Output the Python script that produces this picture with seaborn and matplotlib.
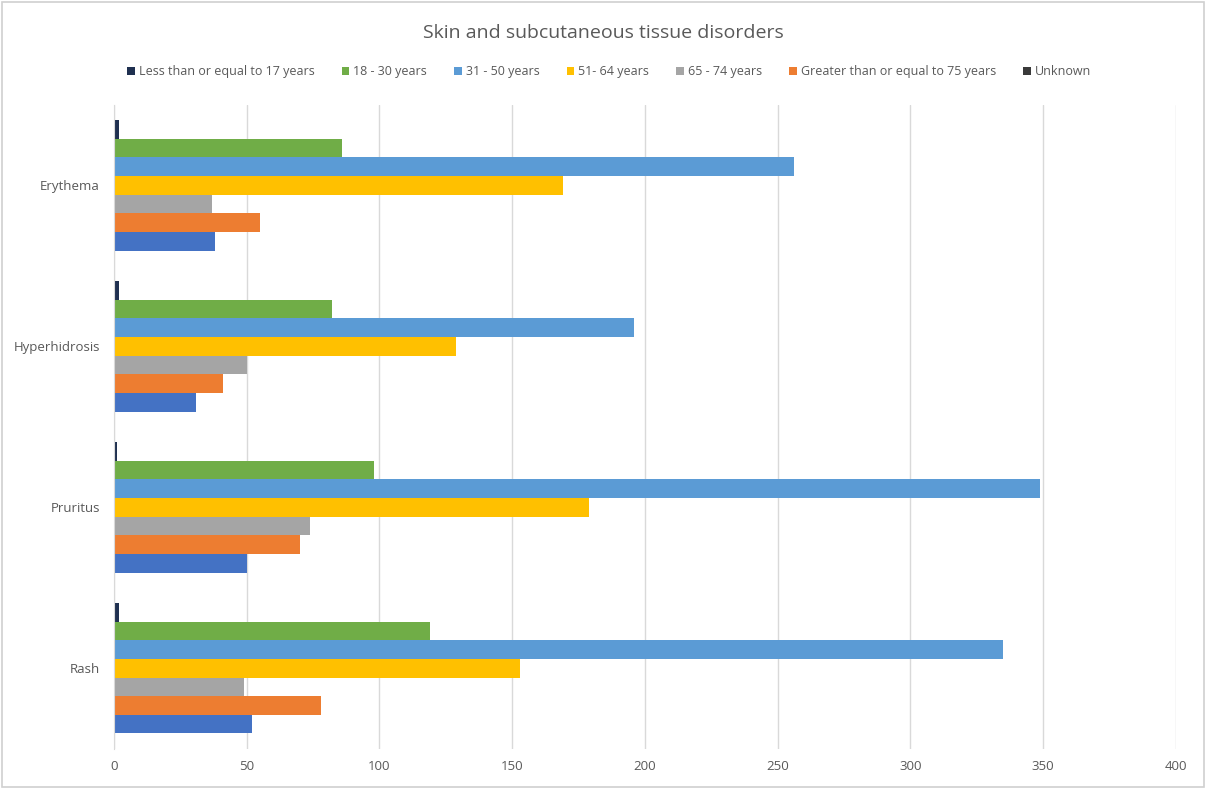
import pandas as pd
import seaborn as sns
import matplotlib.pyplot as plt
from matplotlib.patches import Patch, Rectangle

# Chart data
categories = ['Erythema', 'Hyperhidrosis', 'Pruritus', 'Rash']
age_groups = ['Less than or equal to 17 years', '18 - 30 years', '31 - 50 years',
              '51- 64 years', '65 - 74 years', 'Greater than or equal to 75 years', 'Unknown']
le_17 = [2, 2, 1, 2]
a18_30 = [86, 82, 98, 119]
a31_50 = [256, 196, 349, 335]
a51_64 = [169, 129, 179, 153]
a65_74 = [37, 50, 74, 49]
ge_75 = [55, 41, 70, 78]
unknown = [38, 31, 50, 52]

bar_colors = ['#1F3050', '#70AD47', '#5B9BD5', '#FFC000', '#A5A5A5', '#ED7D31', '#4472C4']
legend_colors = ['#1F3050', '#70AD47', '#5B9BD5', '#FFC000', '#A5A5A5', '#ED7D31', '#3A3A3A']


def build_frame():
    series = [le_17, a18_30, a31_50, a51_64, a65_74, ge_75, unknown]
    rows = []
    for group, values in zip(age_groups, series):
        for cat, v in zip(categories, values):
            rows.append({'category': cat, 'age': group, 'count': v})
    return pd.DataFrame(rows)


def main():
    df = build_frame()
    sns.set_style('white')
    plt.rcParams['font.family'] = ['Open Sans', 'DejaVu Sans']
    text_color = '#595959'

    fig = plt.figure(figsize=(12.06, 7.89), dpi=100)
    ax = fig.add_axes([0.0945, 0.051, 0.8805, 0.816])

    sns.barplot(data=df, y='category', x='count', hue='age', order=categories,
                hue_order=age_groups, palette=bar_colors, orient='h', width=0.81,
                saturation=1, linewidth=0, ax=ax, legend=False)

    ax.set_xlim(0, 400)
    ax.set_ylim(3.5, -0.5)
    ax.set_xticks(range(0, 401, 50))
    ax.xaxis.grid(True, color='#D9D9D9', linewidth=1)
    ax.set_axisbelow(True)
    ax.set_xlabel('')
    ax.set_ylabel('')
    for side in ['top', 'right', 'bottom']:
        ax.spines[side].set_visible(False)
    ax.spines['left'].set_color('#D9D9D9')
    ax.tick_params(axis='both', length=0, labelsize=9.5, colors=text_color)
    ax.tick_params(axis='y', pad=10)
    ax.tick_params(axis='x', pad=8)

    fig.text(0.5, 0.958, 'Skin and subcutaneous tissue disorders', ha='center', va='center',
             fontsize=14, color=text_color)

    handles = [Patch(facecolor=c, edgecolor='none') for c in legend_colors]
    fig.legend(handles, age_groups, loc='center', bbox_to_anchor=(0.505, 0.909), ncol=7,
               frameon=False, fontsize=9, handlelength=0.6, handleheight=0.6,
               handletextpad=0.3, columnspacing=2.2, labelcolor=text_color)

    fig.patches.append(Rectangle((0.002, 0.003), 0.996, 0.994, transform=fig.transFigure,
                                 fill=False, edgecolor='#D0D0D0', linewidth=1.2))

    fig.savefig('out.png', dpi=100)
    plt.close(fig)


if __name__ == '__main__':
    main()
